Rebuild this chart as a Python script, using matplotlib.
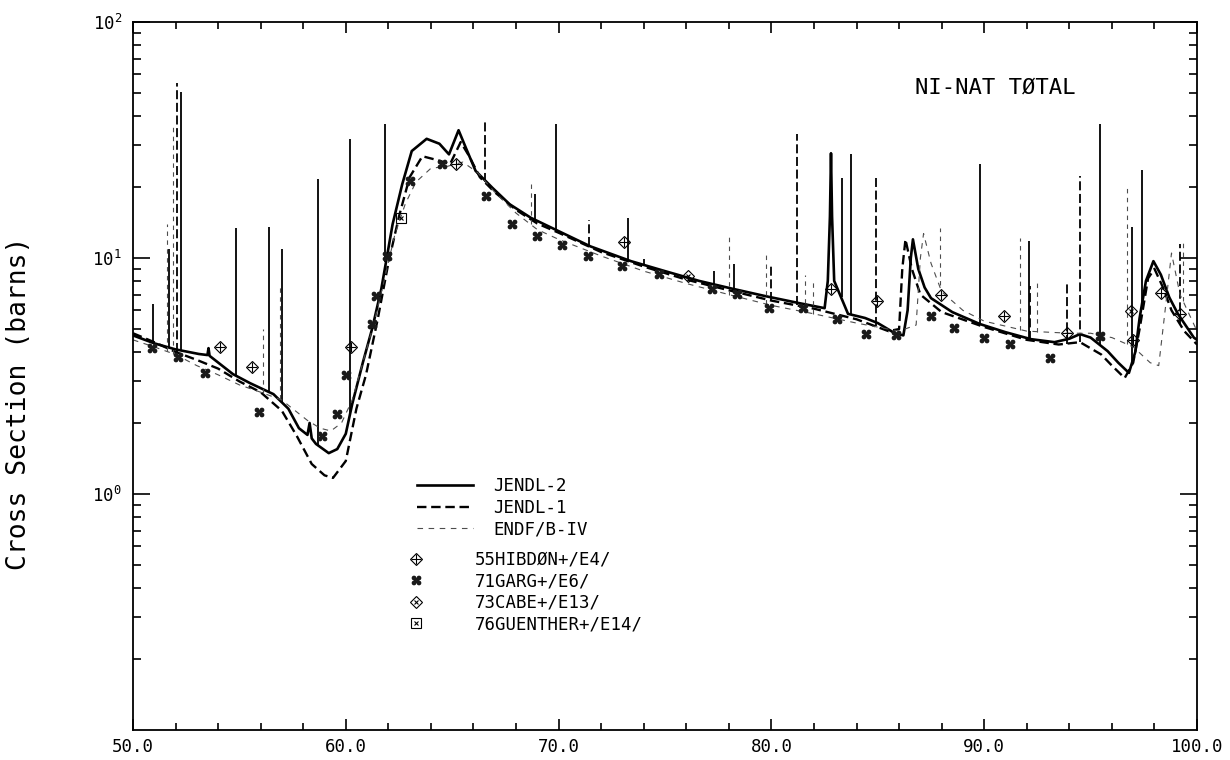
import numpy as np
import matplotlib
matplotlib.use('Agg')
import matplotlib.pyplot as plt
from matplotlib.lines import Line2D
from matplotlib.ticker import LogLocator, MultipleLocator, NullFormatter

plt.rcParams['font.family'] = 'DejaVu Sans Mono'

# JENDL-2 smooth curve (energy, cross section in barns)
j2_e = [50.0, 51.0, 52.0, 53.1, 53.5, 53.55, 53.6, 54.7, 55.5, 56.6, 57.3, 57.8, 58.2, 58.3, 58.4, 58.6,
        59.2, 59.6, 60.0, 60.3, 60.8, 61.25, 61.67, 62.2, 62.65, 63.1, 63.8, 64.4, 64.85, 65.3, 65.65,
        66.1, 66.9, 67.7, 68.7, 70.0, 71.5, 73.4, 75.0, 76.6, 78.2, 79.7, 81.3, 82.5, 82.65, 82.75,
        82.8, 82.85, 82.95, 83.6, 84.4, 85.0, 85.8, 86.2, 86.4, 86.55, 86.65, 86.9, 87.2, 87.5, 88.5,
        89.8, 91.0, 92.2, 93.3, 94.0, 94.5, 95.0, 95.8, 96.3, 96.8, 97.1, 97.3, 97.6, 97.95, 98.3,
        98.7, 99.1, 99.85, 100.0]
j2_xs = [4.7, 4.35, 4.1, 3.92, 3.88, 4.15, 3.85, 3.22, 2.95, 2.65, 2.3, 1.9, 1.78, 2.0, 1.72, 1.63,
         1.49, 1.55, 1.8, 2.4, 3.6, 5.06, 7.4, 13.9, 20.5, 28.4, 32.0, 30.5, 27.5, 34.8, 29.2,
         23.4, 19.8, 16.9, 14.8, 13.0, 11.2, 9.7, 8.8, 8.0, 7.4, 6.9, 6.44, 6.13, 8.0, 15.0,
         27.8, 15.0, 8.0, 5.8, 5.57, 5.3, 4.8, 4.7, 6.0, 10.0, 12.0, 9.0, 7.5, 6.76, 5.9,
         5.25, 4.85, 4.53, 4.4, 4.55, 4.76, 4.6, 4.03, 3.6, 3.26, 4.0, 5.56, 8.0, 9.7, 8.5,
         6.8, 5.8, 4.6, 4.5]
# narrow resonances (position, peak)
j2_spk_e = [50.95, 51.7, 52.25, 54.85, 56.4, 57.0, 58.7, 60.2, 61.85, 68.9, 69.9, 73.25, 74.0,
            77.3, 78.25, 83.3, 83.75, 89.8, 92.1, 95.45, 96.95, 97.4]
j2_spk_top = [6.4, 10.9, 50.5, 13.4, 13.6, 10.9, 21.6, 31.8, 37.0, 18.7, 37.0, 14.8, 9.9,
              8.8, 9.4, 21.8, 27.5, 25.0, 11.8, 37.0, 13.6, 23.5]

# JENDL-1
j1_e = [50.0, 51.0, 52.0, 53.0, 54.0, 55.0, 56.0, 57.0, 57.7, 58.4, 59.0, 59.4, 60.0, 60.5, 60.95,
        61.5, 62.0, 62.5, 63.0, 63.6, 64.3, 64.9, 65.4, 65.8, 66.3, 67.0, 68.0, 69.0, 70.0, 72.0,
        74.0, 76.0, 78.0, 80.0, 82.0, 84.0, 85.5, 86.0, 86.15, 86.3, 86.6, 87.0, 88.0, 90.0, 92.0,
        93.5, 94.5, 95.5, 96.0, 96.6, 97.0, 97.3, 97.7, 98.0, 98.4, 98.8, 99.4, 100.0]
j1_xs = [4.8, 4.4, 4.0, 3.7, 3.4, 3.0, 2.7, 2.25, 1.76, 1.34, 1.2, 1.17, 1.38, 2.3, 3.2,
         5.5, 9.5, 15.0, 22.0, 27.0, 26.0, 25.0, 31.0, 27.0, 22.0, 19.0, 16.0, 14.0, 12.8, 10.6,
         9.2, 8.1, 7.3, 6.6, 6.1, 5.5, 4.9, 5.0, 9.0, 12.0, 9.0, 7.0, 5.9, 5.1, 4.5,
         4.3, 4.4, 3.9, 3.5, 3.1, 3.6, 5.0, 8.2, 9.0, 7.5, 6.0, 4.9, 4.3]
j1_spk_e = [52.05, 66.55, 71.45, 80.0, 81.2, 84.9, 92.15, 93.9, 94.5, 99.2]
j1_spk_top = [55.0, 39.0, 14.5, 9.4, 33.6, 21.8, 7.6, 7.8, 22.3, 11.5]

# ENDF/B-IV
en_e = [50.0, 51.0, 52.0, 53.0, 54.0, 55.0, 56.0, 57.0, 57.5, 58.2, 58.8, 59.3, 59.8, 60.3, 60.8,
        61.3, 61.8, 62.3, 62.8, 63.3, 64.0, 64.8, 65.5, 66.2, 67.0, 68.0, 69.0, 70.0, 72.0, 74.0,
        76.0, 78.0, 80.0, 82.0, 84.0, 86.0, 86.8, 87.0, 87.15, 87.5, 88.0, 89.0, 90.0, 92.0, 94.0,
        95.0, 96.0, 97.0, 97.8, 98.2, 98.5, 98.8, 99.2, 100.0]
en_xs = [4.5, 4.2, 3.9, 3.5, 3.2, 2.9, 2.7, 2.5, 2.3, 2.05, 1.9, 1.85, 2.0, 2.5, 3.6,
         5.2, 8.0, 12.5, 17.0, 21.0, 24.0, 24.5, 25.5, 23.0, 19.0, 15.5, 13.2, 12.0, 10.2, 8.8,
         7.8, 7.0, 6.3, 5.8, 5.3, 4.9, 5.2, 10.0, 12.7, 9.5, 7.2, 6.0, 5.4, 4.9, 4.8,
         4.8, 4.6, 4.2, 3.6, 3.5, 6.0, 10.5, 7.0, 4.9]
en_spk_e = [51.6, 51.9, 56.1, 56.9, 68.7, 78.0, 79.75, 81.6, 81.95, 87.9, 91.7, 92.5, 96.7, 99.35]
en_spk_top = [13.9, 37.0, 5.0, 7.6, 20.6, 12.6, 10.3, 8.5, 8.1, 13.4, 12.2, 8.1, 20.2, 11.9]

# experimental points
hib_e = [54.1, 55.6, 60.25, 65.2, 73.05, 82.8, 84.95, 87.95, 90.95, 93.9, 97.0, 98.3, 99.2]
hib_xs = [4.2, 3.45, 4.2, 25.0, 11.7, 7.4, 6.6, 7.0, 5.7, 4.8, 4.5, 7.1, 5.8]
garg_e = [50.9, 52.1, 53.4, 55.9, 58.9, 59.6, 60.0, 61.25, 61.4, 61.95, 63.0, 64.5, 66.6, 67.8,
          69.0, 70.15, 71.4, 73.0, 74.7, 77.2, 78.4, 79.9, 81.5, 83.1, 84.45, 85.85, 87.5, 88.6,
          90.0, 91.2, 93.1, 95.45]
garg_xs = [4.16, 3.8, 3.26, 2.23, 1.76, 2.18, 3.2, 5.25, 6.9, 10.2, 21.2, 25.0, 18.3, 14.0,
           12.4, 11.4, 10.2, 9.25, 8.56, 7.4, 7.05, 6.14, 6.14, 5.5, 4.76, 4.72, 5.7, 5.05,
           4.58, 4.32, 3.77, 4.67]
cabe_e = [76.1, 96.9]
cabe_xs = [8.4, 5.95]
guen_e = [62.6]
guen_xs = [14.8]

labels_lines = ['JENDL-2', 'JENDL-1', 'ENDF/B-IV']
labels_exp = ['55HIBDØN+/E4/', '71GARG+/E6/', '73CABE+/E13/', '76GUENTHER+/E14/']
xticks = [50, 60, 70, 80, 90, 100]
yticks = [1, 10, 100]
ytick_labels = [r'$\mathregular{10^{0}}$', r'$\mathregular{10^{1}}$', r'$\mathregular{10^{2}}$']

fig = plt.figure(figsize=(12.3, 7.6), dpi=100)
ax = fig.add_axes([0.1081, 0.0395, 0.8651, 0.9315])

st_j2 = dict(color='k', lw=1.9, ls='-')
st_j1 = dict(color='k', lw=1.7, ls=(0, (4, 2)))
st_en = dict(color='0.3', lw=0.8, ls=(0, (5, 5)))

ax.plot(j2_e, j2_xs, **st_j2)
ax.vlines(j2_spk_e, np.interp(j2_spk_e, j2_e, j2_xs), j2_spk_top, colors='k', lw=1.3)
ax.plot(j1_e, j1_xs, **st_j1)
ax.vlines(j1_spk_e, np.interp(j1_spk_e, j1_e, j1_xs), j1_spk_top, colors='k', lw=1.3,
          linestyles=(0, (5, 2)))
ax.plot(en_e, en_xs, **st_en)
ax.vlines(en_spk_e, np.interp(en_spk_e, en_e, en_xs), en_spk_top, colors='0.3', lw=0.8,
          linestyles=(0, (4, 4)))

mk = dict(ls='none', color='k', mfc='none', mew=0.8)
h_hib = (ax.plot(hib_e, hib_xs, marker='D', ms=6, **mk)[0],
         ax.plot(hib_e, hib_xs, marker='+', ms=7, **mk)[0])
h_garg = (ax.plot(garg_e, garg_xs, marker='$\u2318$', ms=6, ls='none', color='0.1')[0],)
h_cabe = (ax.plot(cabe_e, cabe_xs, marker='D', ms=6.5, **mk)[0],
          ax.plot(cabe_e, cabe_xs, marker='x', ms=2.5, **mk)[0])
h_guen = (ax.plot(guen_e, guen_xs, marker='s', ms=7.5, **mk)[0],
          ax.plot(guen_e, guen_xs, marker='x', ms=3.5, **mk)[0])

ax.set_yscale('log')
ax.set_xlim(50, 100)
ax.set_ylim(0.1, 100)
ax.set_xticks(xticks)
ax.set_xticklabels(['%.1f' % v for v in xticks])
ax.xaxis.set_minor_locator(MultipleLocator(2))
ax.set_yticks(yticks)
ax.set_yticklabels(ytick_labels)
ax.yaxis.set_minor_locator(LogLocator(base=10, subs=range(2, 10)))
ax.yaxis.set_minor_formatter(NullFormatter())
ax.tick_params(which='both', direction='in', top=True, right=True, width=1.2, labelsize=12.5)
ax.tick_params(axis='y', which='major', length=12, pad=8)
ax.tick_params(axis='y', which='minor', length=6)
ax.tick_params(axis='x', which='major', length=8, pad=6)
ax.tick_params(axis='x', which='minor', length=5)
for s in ax.spines.values():
    s.set_linewidth(1.3)

ax.set_ylabel('Cross Section (barns)', fontsize=19)
ax.yaxis.set_label_coords(-0.095, 0.462)

ax.text(0.735, 0.908, 'NI-NAT TØTAL', transform=ax.transAxes, fontsize=16, va='center', ha='left')

line_handles = [Line2D([], [], **st_j2), Line2D([], [], **st_j1), Line2D([], [], **st_en)]
leg1 = ax.legend(line_handles, labels_lines, loc='upper left', bbox_to_anchor=(0.267, 0.357),
                 frameon=False, fontsize=12.5, handlelength=3.2, handletextpad=1.2,
                 labelspacing=0.2, borderpad=0, borderaxespad=0)
ax.add_artist(leg1)
ax.legend([h_hib, h_garg, h_cabe, h_guen], labels_exp, loc='upper left',
          bbox_to_anchor=(0.2575, 0.253), frameon=False, fontsize=12.5, handlelength=1.0,
          handletextpad=2.9, labelspacing=0.2, borderpad=0, borderaxespad=0)

fig.savefig('out.png', dpi=100)
